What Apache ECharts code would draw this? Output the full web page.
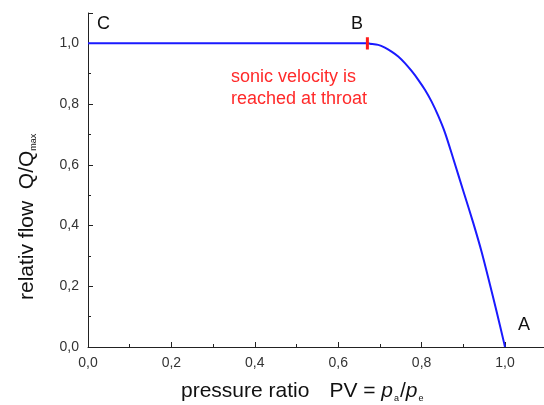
<!DOCTYPE html>
<html><head><meta charset="utf-8">
<script src="https://cdn.jsdelivr.net/npm/echarts@6/dist/echarts.min.js"></script>
<style>html,body{margin:0;padding:0;background:#fff}#c{width:544px;height:405px}</style>
</head><body><div id="c"></div>
<script>
const flowX = [0, 0.67, 0.676, 0.696, 0.712, 0.728, 0.744, 0.760, 0.776, 0.792, 0.808, 0.824, 0.840, 0.856, 0.876, 0.900, 0.924, 0.944, 0.964, 0.980, 0.998, 1.0];
const flowY = [1.0, 1.0, 0.999, 0.995, 0.986, 0.973, 0.957, 0.935, 0.909, 0.880, 0.847, 0.808, 0.761, 0.706, 0.620, 0.514, 0.408, 0.313, 0.205, 0.116, 0.012, 0.0];
const sonicX = [0.67, 0.67];
const sonicY = [0.98, 1.02];
const pointLabels = ['C', 'B', 'A'];
const noteLines = ['sonic velocity is', 'reached at throat'];

const fmt = v => (Math.abs(v / 0.2 - Math.round(v / 0.2)) < 1e-6) ? v.toFixed(1).replace('.', ',') : '';
const font = 'Liberation Sans, Arial, sans-serif';
const chart = echarts.init(document.getElementById('c'));
chart.setOption({
  animation: false,
  grid: { left: 88, top: 13, width: 458.7, height: 334, outerBoundsMode: 'none', containLabel: false },
  xAxis: {
    type: 'value', min: 0, max: 1.1, interval: 0.2,
    axisLine: { lineStyle: { color: '#222', width: 1 } },
    axisTick: { inside: true, length: 5, lineStyle: { color: '#222' } },
    minorTick: { show: true, splitNumber: 2, length: 3, lineStyle: { color: '#222' } },
    splitLine: { show: false },
    axisLabel: { formatter: fmt, color: '#333', fontSize: 14, fontFamily: font, margin: 9 }
  },
  yAxis: {
    type: 'value', min: 0, max: 1.1, interval: 0.2,
    axisLine: { show: true, lineStyle: { color: '#222', width: 1 } },
    axisTick: { show: true, inside: true, length: 5, lineStyle: { color: '#222' } },
    minorTick: { show: true, splitNumber: 2, length: 3, lineStyle: { color: '#222' } },
    splitLine: { show: false },
    axisLabel: { formatter: fmt, color: '#333', fontSize: 14, fontFamily: font, margin: 9 }
  },
  series: [
    { type: 'line', data: flowX.map((x, i) => [x, flowY[i]]), showSymbol: false, smooth: 0.3,
      lineStyle: { color: '#1a1aff', width: 2 }, z: 2 },
    { type: 'line', data: sonicX.map((x, i) => [x, sonicY[i]]), showSymbol: false,
      lineStyle: { color: '#ff1a1a', width: 3 }, z: 3 }
  ],
  graphic: [
    { type: 'text', left: 97, top: 15, style: { text: pointLabels[0], fontSize: 18, fontFamily: font, fill: '#111' } },
    { type: 'text', left: 351, top: 15, style: { text: pointLabels[1], fontSize: 18, fontFamily: font, fill: '#111' } },
    { type: 'text', left: 518, top: 316, style: { text: pointLabels[2], fontSize: 18, fontFamily: font, fill: '#111' } },
    { type: 'text', left: 231, top: 66, style: { text: noteLines.join('\n'), fontSize: 18, lineHeight: 22, fontFamily: font, fill: '#ff2a2a' } },
    { type: 'text', x: 181, y: 391, style: {
        text: '{n|pressure ratio}      {n|PV = }{i|p}{s|a}{n|/}{i|p}{s|e}',
        verticalAlign: 'middle',
        rich: {
          n: { fontSize: 21, fontFamily: font, fill: '#111' },
          i: { fontSize: 21, fontFamily: font, fontStyle: 'italic', fill: '#111' },
          s: { fontSize: 9, fontFamily: font, fill: '#111', padding: [16, 1, 0, 1] }
        } } },
    { type: 'text', x: 27, y: 300, rotation: Math.PI / 2, style: {
        text: '{n|relativ flow  Q/Q}{s|max}',
        verticalAlign: 'middle',
        rich: {
          n: { fontSize: 21, fontFamily: font, fill: '#111' },
          s: { fontSize: 9, fontFamily: font, fill: '#111', padding: [14, 0, 0, 0] }
        } } }
  ]
});
</script></body></html>
